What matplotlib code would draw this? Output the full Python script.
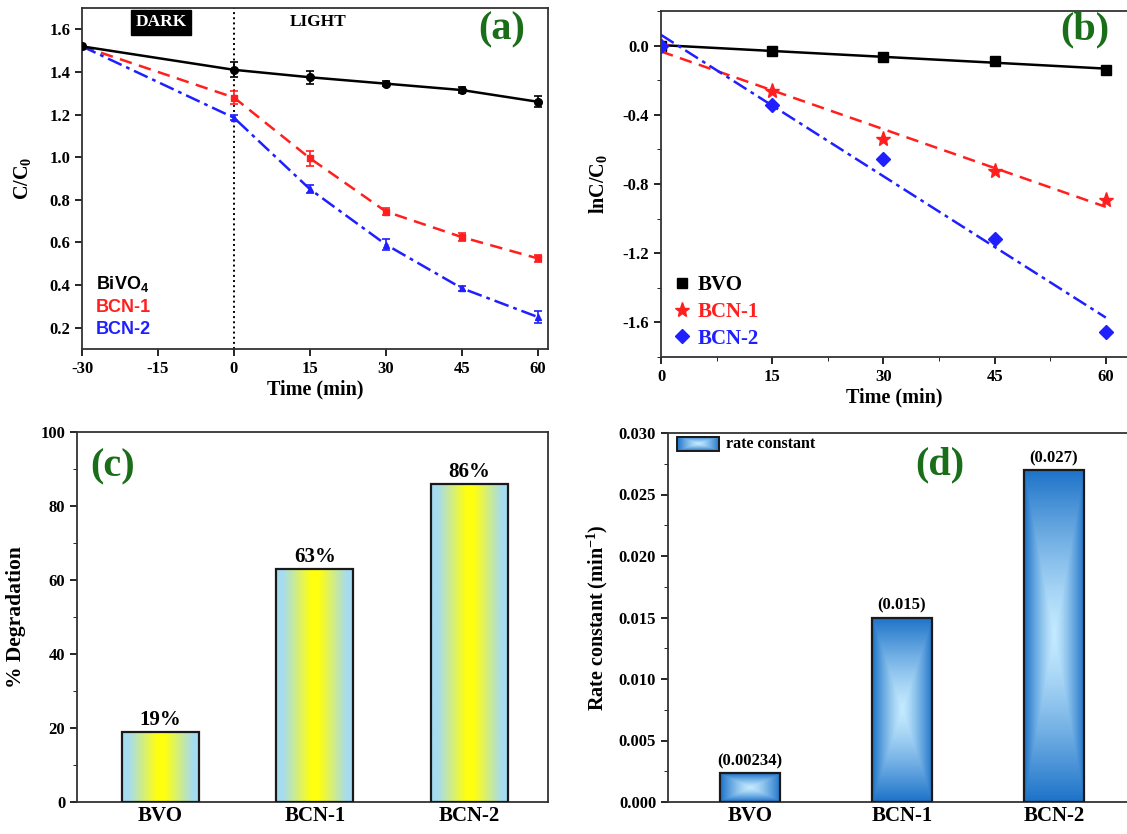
import numpy as np
import matplotlib
matplotlib.use('Agg')
import matplotlib.pyplot as plt
from matplotlib.patches import Rectangle
from matplotlib.colors import to_rgb
from matplotlib.ticker import MultipleLocator
from matplotlib.lines import Line2D

# ---------------- data ----------------
time_a = [-30, 0, 15, 30, 45, 60]
bivo4 = [1.52, 1.41, 1.375, 1.345, 1.315, 1.26]
bivo4_err = [0.0, 0.035, 0.03, 0.012, 0.012, 0.025]
bcn1 = [1.52, 1.28, 0.995, 0.745, 0.625, 0.525]
bcn1_err = [0.0, 0.03, 0.035, 0.018, 0.018, 0.018]
bcn2 = [1.52, 1.185, 0.85, 0.59, 0.385, 0.25]
bcn2_err = [0.0, 0.012, 0.018, 0.025, 0.012, 0.03]

time_b = [0, 15, 30, 45, 60]
ln_bvo = [0.0, -0.03, -0.065, -0.09, -0.14]
ln_bcn1 = [0.0, -0.26, -0.54, -0.725, -0.89]
ln_bcn2 = [0.0, -0.345, -0.655, -1.12, -1.655]

samples = ['BVO', 'BCN-1', 'BCN-2']
degradation = [19, 63, 86]
deg_labels = ['19%', '63%', '86%']
rate = [0.00234, 0.015, 0.027]
rate_labels = ['(0.00234)', '(0.015)', '(0.027)']

# ---------------- style ----------------
plt.rcParams['font.family'] = ['Liberation Serif', 'DejaVu Serif']
plt.rcParams['font.weight'] = 'bold'
plt.rcParams['axes.labelweight'] = 'bold'
plt.rcParams['axes.unicode_minus'] = False
plt.rcParams['mathtext.fontset'] = 'custom'
plt.rcParams['mathtext.rm'] = 'Liberation Serif:bold'
plt.rcParams['mathtext.bf'] = 'Liberation Serif:bold'
plt.rcParams['mathtext.it'] = 'Liberation Serif:bold:italic'
plt.rcParams['mathtext.sf'] = 'Liberation Sans:bold'
plt.rcParams['axes.linewidth'] = 1.3
plt.rcParams['axes.edgecolor'] = '#333333'
plt.rcParams['xtick.direction'] = 'out'
plt.rcParams['ytick.direction'] = 'out'
plt.rcParams['xtick.major.size'] = 5
plt.rcParams['ytick.major.size'] = 5
plt.rcParams['xtick.minor.size'] = 3
plt.rcParams['ytick.minor.size'] = 3
plt.rcParams['xtick.major.width'] = 1.2
plt.rcParams['ytick.major.width'] = 1.2
plt.rcParams['xtick.labelsize'] = 12
plt.rcParams['ytick.labelsize'] = 12

GREEN = '#1a6e1a'
RED = '#ff1f1f'
BLUE = '#1f1fff'
W, H = 1127, 834
fig = plt.figure(figsize=(W / 100, H / 100), dpi=100)


def pos(l, t, r, b):
    return [l / W, 1 - b / H, (r - l) / W, (b - t) / H]


ax_a = fig.add_axes(pos(82, 8, 548, 349))
ax_b = fig.add_axes(pos(661, 11, 1128, 357))
ax_c = fig.add_axes(pos(77, 432, 548, 802))
ax_d = fig.add_axes(pos(668, 433, 1136, 802))

# ---------------- (a) ----------------
ax = ax_a
ax.errorbar(time_a, bivo4, yerr=bivo4_err, color='black', ls='-', lw=1.8,
            marker='o', ms=5.5, capsize=3, elinewidth=1.2, capthick=1.2, zorder=4)
ax.errorbar(time_a, bcn1, yerr=bcn1_err, color=RED, ls=(0, (5, 3)), lw=1.8,
            marker='s', ms=4.5, capsize=3, elinewidth=1.2, capthick=1.2,
            ecolor=RED, zorder=3)
ax.errorbar(time_a, bcn2, yerr=bcn2_err, color=BLUE, ls=(0, (6, 2, 1.5, 2)), lw=1.8,
            marker='^', ms=5, capsize=3, elinewidth=1.2, capthick=1.2,
            ecolor=BLUE, zorder=3)
ax.axvline(0, color='black', ls=':', lw=1.4, zorder=2)
ax.set_xlim(-30, 62)
ax.set_ylim(0.1, 1.7)
ax.set_xticks([-30, -15, 0, 15, 30, 45, 60])
ax.set_yticks([0.2, 0.4, 0.6, 0.8, 1.0, 1.2, 1.4, 1.6])
ax.set_xlabel('Time (min)', fontsize=14.5, labelpad=2)
ax.set_ylabel('C/C$_\\mathbf{0}$', fontsize=14.5, labelpad=12)
ax.text(0.17, 0.958, 'DARK', transform=ax.transAxes, ha='center', va='center',
        color='white', fontsize=12.5,
        bbox=dict(boxstyle='square,pad=0.25', fc='black', ec='black'))
ax.text(0.506, 0.958, 'LIGHT', transform=ax.transAxes, ha='center', va='center',
        color='black', fontsize=12.5)
ax.text(0.90, 0.935, '(a)', transform=ax.transAxes, ha='center', va='center',
        color=GREEN, fontsize=29)
hs = [Line2D([], [], ls='none', marker='none') for _ in range(3)]
ax.legend(hs, ['$\\mathsf{BiVO_4}$', 'BCN-1', 'BCN-2'], loc='lower left',
          bbox_to_anchor=(0.015, 0.012), frameon=False, handlelength=0,
          handletextpad=0, borderaxespad=0, labelspacing=0.28,
          labelcolor=['black', RED, BLUE],
          prop={'family': 'Liberation Sans', 'weight': 'bold', 'size': 13})

# ---------------- (b) ----------------
ax = ax_b
xs = np.array(time_b, dtype=float)
xfit = np.linspace(0, 60, 50)
series_b = [
    (ln_bvo, 'black', 's', 7, '-', 'BVO'),
    (ln_bcn1, RED, '*', 11, (0, (5, 3)), 'BCN-1'),
    (ln_bcn2, BLUE, 'D', 7.5, (0, (6, 2, 1.5, 2)), 'BCN-2'),
]
handles = []
for ys, col, mk, ms, ls, lab in series_b:
    k, b0 = np.polyfit(xs, ys, 1)
    ax.plot(xfit, k * xfit + b0, color=col, ls=ls, lw=1.8, zorder=2)
    h, = ax.plot(xs, ys, ls='none', marker=mk, ms=ms, color=col, zorder=3)
    handles.append(h)
ax.set_xlim(0, 63)
ax.set_ylim(-1.8, 0.2)
ax.set_xticks([0, 15, 30, 45, 60])
ax.xaxis.set_minor_locator(MultipleLocator(7.5))
ax.set_yticks([-1.6, -1.2, -0.8, -0.4, 0.0])
ax.yaxis.set_minor_locator(MultipleLocator(0.2))
ax.spines['right'].set_visible(False)
ax.set_xlabel('Time (min)', fontsize=14.5, labelpad=2)
ax.set_ylabel('lnC/C$_\\mathbf{0}$', fontsize=14.5, labelpad=10)
ax.text(0.908, 0.945, '(b)', transform=ax.transAxes, ha='center', va='center',
        color=GREEN, fontsize=29)
ax.legend(handles, ['BVO', 'BCN-1', 'BCN-2'], loc='lower left',
          bbox_to_anchor=(0.005, 0.0), frameon=False, handlelength=1.0,
          handletextpad=0.25, borderaxespad=0, labelspacing=0.32,
          labelcolor=['black', RED, BLUE],
          prop={'weight': 'bold', 'size': 15})


# ---------------- gradient helpers ----------------
def yellow_grad():
    n = 200
    x = np.linspace(-1, 1, n)
    s = np.clip((np.abs(x) - 0.1) / 0.72, 0, 1) ** 1.0
    c1 = np.array(to_rgb('#ffff10'))
    c2 = np.array(to_rgb('#a6dcef'))
    row = c1[None, :] * (1 - s[:, None]) + c2[None, :] * s[:, None]
    return np.repeat(row[None, :, :], 4, axis=0)


def blue_grad(aspect):
    n = 160
    x = np.linspace(-1, 1, n)
    y = np.linspace(-1, 1, int(max(8, n * aspect)))
    X, Y = np.meshgrid(x, y)
    d = np.maximum(np.abs(X), np.abs(Y))
    s = np.clip(d, 0, 1) ** 1.3
    c1 = np.array(to_rgb('#c4eaff'))
    c2 = np.array(to_rgb('#1c72c8'))
    return c1[None, None, :] * (1 - s[..., None]) + c2[None, None, :] * s[..., None]


def grad_bar(ax, x, h, w, img):
    ax.imshow(img, extent=(x - w / 2, x + w / 2, 0, h), aspect='auto',
              origin='lower', zorder=2, interpolation='bilinear')
    ax.add_patch(Rectangle((x - w / 2, 0), w, h, fill=False, ec='#1a1a1a',
                           lw=1.6, zorder=3))


# ---------------- (c) ----------------
ax = ax_c
for i, (v, lab) in enumerate(zip(degradation, deg_labels)):
    grad_bar(ax, i, v, 0.5, yellow_grad())
    ax.text(i, v + 0.5, lab, ha='center', va='bottom', fontsize=15)
ax.set_xlim(-0.54, 2.51)
ax.set_ylim(0, 100)
ax.set_xticks(range(len(samples)))
ax.set_xticklabels(samples, fontsize=15)
ax.tick_params(axis='x', length=0, pad=3)
ax.set_yticks([0, 20, 40, 60, 80, 100])
ax.yaxis.set_minor_locator(MultipleLocator(10))
ax.set_ylabel('% Degradation', fontsize=15.5, labelpad=10)
ax.text(0.075, 0.905, '(c)', transform=ax.transAxes, ha='center', va='center',
        color=GREEN, fontsize=29)

# ---------------- (d) ----------------
ax = ax_d
for i, (v, lab) in enumerate(zip(rate, rate_labels)):
    grad_bar(ax, i, v, 0.4, blue_grad(v / 0.03 * 2.5))
    ax.text(i, v + 0.0003, lab, ha='center', va='bottom', fontsize=12)
ax.imshow(blue_grad(0.35), extent=(0.019, 0.11, 0.951, 0.989), transform=ax.transAxes,
          aspect='auto', origin='lower', zorder=4)
ax.add_patch(Rectangle((0.019, 0.951), 0.091, 0.038, transform=ax.transAxes,
                       fill=False, ec='#1a1a1a', lw=1.4, zorder=5))
ax.text(0.123, 0.970, 'rate constant', transform=ax.transAxes, ha='left',
        va='center', fontsize=11.5)
ax.set_xlim(-0.54, 2.54)
ax.set_ylim(0, 0.030)
ax.set_xticks(range(len(samples)))
ax.set_xticklabels(samples, fontsize=15)
ax.tick_params(axis='x', length=0, pad=3)
ax.set_yticks([0.0, 0.005, 0.010, 0.015, 0.020, 0.025, 0.030])
ax.set_yticklabels(['0.000', '0.005', '0.010', '0.015', '0.020', '0.025', '0.030'])
ax.yaxis.set_minor_locator(MultipleLocator(0.0025))
ax.spines['right'].set_visible(False)
ax.set_ylabel('Rate constant (min$^\\mathbf{-1}$)', fontsize=14.5, labelpad=6)
ax.text(0.58, 0.913, '(d)', transform=ax.transAxes, ha='center', va='center',
        color=GREEN, fontsize=29)

fig.savefig('out.png', dpi=100)
